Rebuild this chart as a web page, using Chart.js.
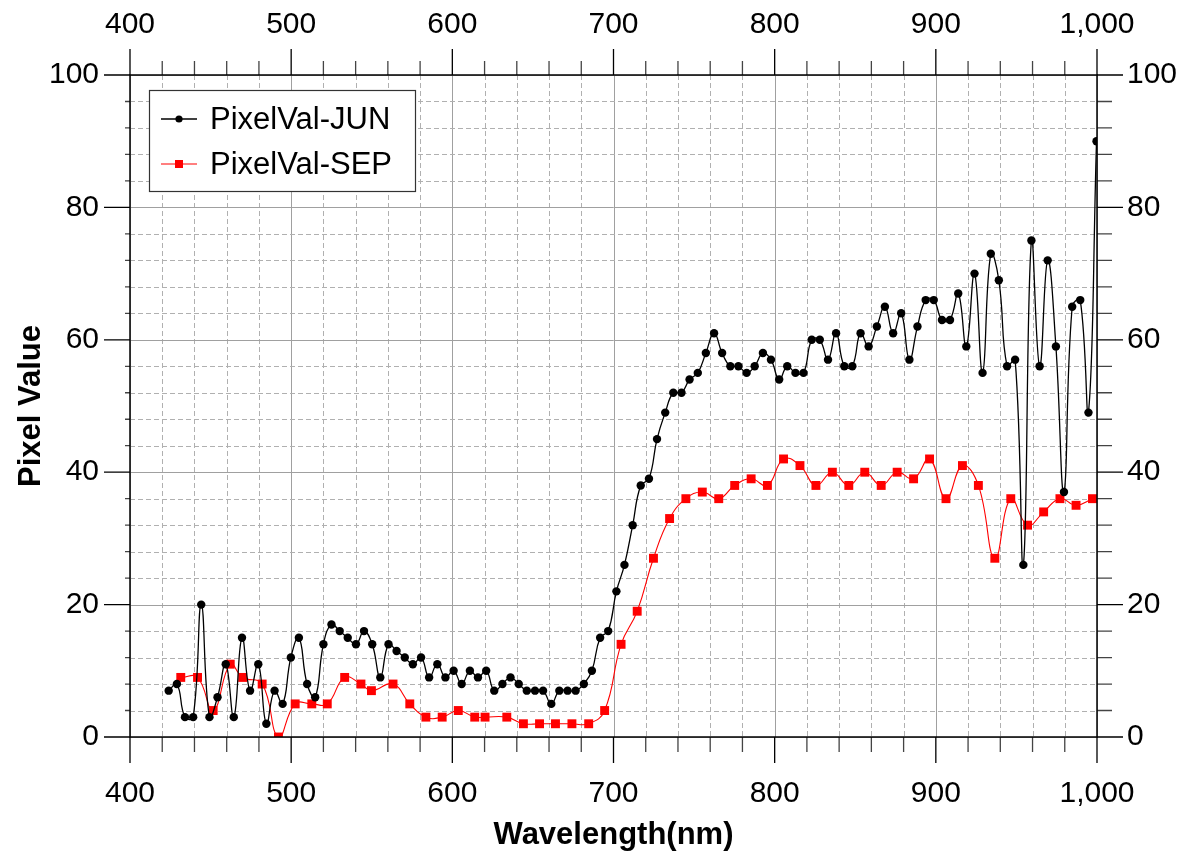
<!DOCTYPE html>
<html>
<head>
<meta charset="utf-8">
<title>Pixel Value</title>
<script src="https://cdn.jsdelivr.net/npm/chart.js@4.4.1/dist/chart.umd.min.js"></script>
<style>
  html, body { margin: 0; padding: 0; background: #fff; }
  #wrap { width: 1183px; height: 854px; }
</style>
</head>
<body>
<div id="wrap"><canvas id="pixelChart" width="1183" height="854"></canvas></div>
<script>
// wavelengths (nm) of the JUN samples
var wavelengthJun = [
  424.0, 429.1, 434.1, 439.2, 444.2, 449.3, 454.3, 459.4, 464.4, 469.5,
  474.5, 479.6, 484.6, 489.7, 494.7, 499.8, 504.8, 509.9, 514.9, 520.0,
  525.0, 530.1, 535.1, 540.2, 545.2, 550.3, 555.3, 560.4, 565.4, 570.5,
  575.5, 580.6, 585.6, 590.7, 595.7, 600.8, 605.8, 610.9, 615.9, 621.0,
  626.0, 631.1, 636.1, 641.2, 646.2, 651.3, 656.3, 661.4, 666.4, 671.5,
  676.5, 681.6, 686.6, 691.7, 696.7, 701.8, 706.8, 711.9, 716.9, 722.0,
  727.0, 732.1, 737.1, 742.2, 747.2, 752.3, 757.3, 762.4, 767.4, 772.5,
  777.5, 782.6, 787.6, 792.7, 797.7, 802.8, 807.8, 812.9, 817.9, 823.0,
  828.0, 833.1, 838.1, 843.2, 848.2, 853.3, 858.3, 863.4, 868.4, 873.5,
  878.5, 883.6, 888.6, 893.7, 898.7, 903.8, 908.8, 913.9, 918.9, 924.0,
  929.0, 934.1, 939.1, 944.2, 949.2, 954.3, 959.3, 964.4, 969.4, 974.5,
  979.5, 984.6, 989.6, 994.7, 999.7
];
var pixelJun = [
  7, 8, 3, 3, 20, 3, 6, 11, 3, 15,
  7, 11, 2, 7, 5, 12, 15, 8, 6, 14,
  17, 16, 15, 14, 16, 14, 9, 14, 13, 12,
  11, 12, 9, 11, 9, 10, 8, 10, 9, 10,
  7, 8, 9, 8, 7, 7, 7, 5, 7, 7,
  7, 8, 10, 15, 16, 22, 26, 32, 38, 39,
  45, 49, 52, 52, 54, 55, 58, 61, 58, 56,
  56, 55, 56, 58, 57, 54, 56, 55, 55, 60,
  60, 57, 61, 56, 56, 61, 59, 62, 65, 61,
  64, 57, 62, 66, 66, 63, 63, 67, 59, 70,
  55, 73, 69, 56, 57, 26, 75, 56, 72, 59,
  37, 65, 66, 49, 90
];

// wavelengths (nm) of the SEP samples
var wavelengthSep = [
  431.5, 441.9, 451.6, 462.2, 469.9, 482.0, 492.1, 502.5, 512.8, 522.4,
  533.2, 543.3, 549.8, 563.2, 573.6, 583.6, 593.7, 603.7, 613.9, 620.3,
  633.8, 644.1, 654.1, 664.0, 674.2, 684.6, 694.5, 704.7, 714.7, 724.8,
  734.8, 744.9, 755.1, 765.3, 775.2, 785.4, 795.5, 805.5, 815.7, 825.6,
  835.8, 846.0, 855.9, 866.1, 876.0, 886.2, 896.1, 906.3, 916.5, 926.4,
  936.6, 946.5, 956.9, 966.9, 977.0, 987.0, 997.2
];
var pixelSep = [
  9, 9, 4, 11, 9, 8, 0, 5, 5, 5,
  9, 8, 7, 8, 5, 3, 3, 4, 3, 3,
  3, 2, 2, 2, 2, 2, 4, 14, 19, 27,
  33, 36, 37, 36, 38, 39, 38, 42, 41, 38,
  40, 38, 40, 38, 40, 39, 42, 36, 41, 38,
  27, 36, 32, 34, 36, 35, 36
];

var seriesNames = ['PixelVal-JUN', 'PixelVal-SEP'];

// axis ranges and tick steps
var xRange = [400, 1000];
var xMajor = 100, xMinor = 20;
var yRange = [0, 100];
var yMajor = 20, yMinor = 4;

var FONT = "'Liberation Sans', Arial, sans-serif";

function toPoints(xs, ys) {
  return xs.map(function (x, i) { return { x: x, y: ys[i] }; });
}

function xLabel(v) { return v % xMajor === 0 ? v.toLocaleString('en-US') : ''; }
function yLabel(v) { return v % yMajor === 0 ? String(v) : ''; }

var hiddenGrid = {
  drawOnChartArea: false,
  drawTicks: true,
  tickLength: 26,
  color: 'rgba(0,0,0,0)',
  tickColor: 'rgba(0,0,0,0)'
};

// grid, frame, tick marks and the boxed legend
var framePlugin = {
  id: 'frame',
  beforeDatasetsDraw: function (chart) {
    var ctx = chart.ctx, a = chart.chartArea;
    var xs = chart.scales.x, ys = chart.scales.y;
    ctx.save();
    ctx.lineWidth = 1;
    for (var v = xRange[0]; v <= xRange[1]; v += xMinor) {
      var px = Math.round(xs.getPixelForValue(v)) + 0.5;
      var major = v % xMajor === 0;
      ctx.strokeStyle = major ? '#a0a0a0' : '#b0b0b0';
      ctx.setLineDash(major ? [] : [5, 3]);
      ctx.beginPath(); ctx.moveTo(px, a.top); ctx.lineTo(px, a.bottom); ctx.stroke();
    }
    for (var w = yRange[0]; w <= yRange[1]; w += yMinor) {
      var py = Math.round(ys.getPixelForValue(w)) + 0.5;
      var maj = w % yMajor === 0;
      ctx.strokeStyle = maj ? '#a0a0a0' : '#b0b0b0';
      ctx.setLineDash(maj ? [] : [5, 3]);
      ctx.beginPath(); ctx.moveTo(a.left, py); ctx.lineTo(a.right, py); ctx.stroke();
    }
    ctx.restore();
  },
  afterDatasetsDraw: function (chart) {
    var ctx = chart.ctx, a = chart.chartArea;
    var xs = chart.scales.x, ys = chart.scales.y;
    ctx.save();
    ctx.setLineDash([]);

    // tick marks
    ctx.lineWidth = 1.3;
    for (var v = xRange[0]; v <= xRange[1]; v += xMinor) {
      var px = xs.getPixelForValue(v);
      var major = v % xMajor === 0;
      ctx.strokeStyle = major ? '#000' : '#444';
      ctx.beginPath();
      ctx.moveTo(px, a.bottom); ctx.lineTo(px, a.bottom + (major ? 26 : 15));
      ctx.moveTo(px, a.top); ctx.lineTo(px, a.top - (major ? 26 : 14));
      ctx.stroke();
    }
    for (var w = yRange[0]; w <= yRange[1]; w += yMinor) {
      var py = ys.getPixelForValue(w);
      var maj = w % yMajor === 0;
      ctx.strokeStyle = maj ? '#000' : '#444';
      ctx.beginPath();
      ctx.moveTo(a.left, py); ctx.lineTo(a.left - (maj ? 26 : 5), py);
      ctx.moveTo(a.right, py); ctx.lineTo(a.right + (maj ? 26 : 15), py);
      ctx.stroke();
    }

    // frame
    ctx.strokeStyle = '#000';
    ctx.lineWidth = 1.5;
    ctx.strokeRect(a.left, a.top, a.right - a.left, a.bottom - a.top);

    // legend
    var lx = 149, ly = 90, lw = 266, lh = 101;
    ctx.fillStyle = '#fff';
    ctx.fillRect(lx, ly, lw, lh);
    ctx.strokeStyle = '#333';
    ctx.lineWidth = 1.2;
    ctx.strokeRect(lx + 0.5, ly + 0.5, lw, lh);
    ctx.font = '31px ' + FONT;
    ctx.textBaseline = 'middle';
    ctx.textAlign = 'left';
    chart.data.datasets.forEach(function (ds, i) {
      var cy = 119 + i * 45;
      ctx.strokeStyle = ds.borderColor;
      ctx.lineWidth = ds.borderWidth;
      ctx.beginPath(); ctx.moveTo(161, cy); ctx.lineTo(197, cy); ctx.stroke();
      ctx.fillStyle = ds.borderColor;
      if (ds.pointStyle === 'rect') {
        ctx.fillRect(175, cy - 4, 8, 8);
      } else {
        ctx.beginPath(); ctx.arc(179, cy, 3.6, 0, Math.PI * 2); ctx.fill();
      }
      ctx.fillStyle = '#000';
      ctx.fillText(ds.label, 210, cy + 1);
    });
    ctx.restore();
  }
};

var tickFont = { family: FONT, size: 30 };
var titleFont = { family: FONT, size: 31, weight: 'bold' };

var pixelChart = new Chart(document.getElementById('pixelChart').getContext('2d'), {
  type: 'line',
  data: {
    datasets: [{
      label: seriesNames[0],
      data: toPoints(wavelengthJun, pixelJun),
      borderColor: '#000000',
      backgroundColor: '#000000',
      borderWidth: 1.3,
      pointStyle: 'circle',
      pointRadius: 4.2,
      pointBorderWidth: 0,
      tension: 0.45,
      fill: false
    }, {
      label: seriesNames[1],
      data: toPoints(wavelengthSep, pixelSep),
      borderColor: '#ff0000',
      backgroundColor: '#ff0000',
      borderWidth: 1.1,
      pointStyle: 'rect',
      pointRadius: 6.3,
      pointBorderWidth: 0,
      tension: 0.45,
      fill: false
    }]
  },
  options: {
    responsive: false,
    animation: false,
    layout: { padding: 0 },
    elements: { line: { capBezierPoints: false } },
    plugins: {
      legend: { display: false },
      tooltip: { enabled: false }
    },
    scales: {
      x: {
        type: 'linear', position: 'bottom', min: xRange[0], max: xRange[1],
        ticks: { stepSize: xMinor, autoSkip: false, maxRotation: 0, padding: 13,
                 color: '#000', font: tickFont, callback: xLabel },
        grid: hiddenGrid,
        border: { display: false },
        title: { display: true, text: 'Wavelength(nm)', color: '#000', font: titleFont,
                 padding: { top: 0, bottom: 0 } },
        afterFit: function (s) { s.height = 117; }
      },
      x2: {
        type: 'linear', position: 'top', min: xRange[0], max: xRange[1],
        ticks: { stepSize: xMinor, autoSkip: false, maxRotation: 0, padding: 6,
                 color: '#000', font: tickFont, callback: xLabel },
        grid: hiddenGrid,
        border: { display: false },
        afterFit: function (s) { s.height = 75; }
      },
      y: {
        type: 'linear', position: 'left', min: yRange[0], max: yRange[1],
        ticks: { stepSize: yMinor, autoSkip: false, padding: 5,
                 color: '#000', font: tickFont, callback: yLabel },
        grid: hiddenGrid,
        border: { display: false },
        title: { display: true, text: 'Pixel Value', color: '#000', font: titleFont,
                 padding: { top: 13, bottom: 0 } },
        afterFit: function (s) { s.width = 130; }
      },
      y2: {
        type: 'linear', position: 'right', min: yRange[0], max: yRange[1],
        ticks: { stepSize: yMinor, autoSkip: false, padding: 4,
                 color: '#000', font: tickFont, callback: yLabel },
        grid: hiddenGrid,
        border: { display: false },
        afterFit: function (s) { s.width = 86; }
      }
    }
  },
  plugins: [framePlugin]
});
</script>
</body>
</html>
